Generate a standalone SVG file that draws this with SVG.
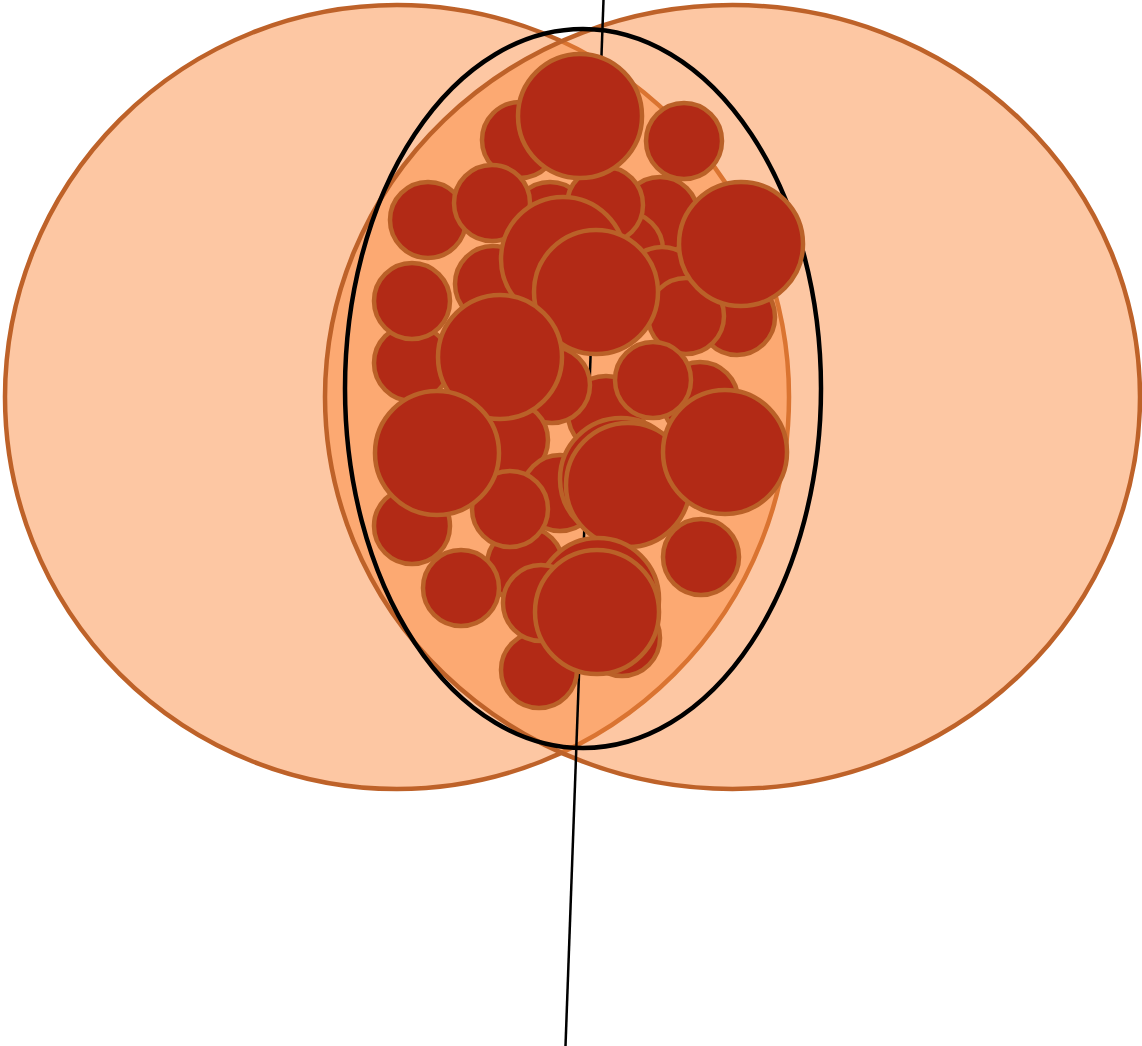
<svg xmlns="http://www.w3.org/2000/svg" width="1142" height="1046" viewBox="0 0 1142 1046">
<style>
.lobe{fill:#FB873B;fill-opacity:0.47;stroke:#BE6229;stroke-width:4.5}
.c{fill:#B22A16;stroke:#BA6128;stroke-width:4.5}
</style>
<rect width="1142" height="1046" fill="#FFFFFF"/>
<g id="lobes">
<circle class="lobe" cx="397" cy="397" r="392"/>
<ellipse class="lobe" cx="732.5" cy="397" rx="407.5" ry="392"/>
</g>
<ellipse id="outline" cx="583" cy="388.5" rx="238" ry="359.5" fill="none" stroke="#000000" stroke-width="4.5"/>
<line id="axis" x1="603.5" y1="0" x2="565.5" y2="1046" stroke="#000000" stroke-width="2.5"/>
<g id="cells">
<circle class="c" cx="550" cy="220" r="38"/>
<circle class="c" cx="660" cy="215" r="38"/>
<circle class="c" cx="625" cy="250" r="38"/>
<circle class="c" cx="662" cy="285" r="38"/>
<circle class="c" cx="520" cy="140" r="38"/>
<circle class="c" cx="605" cy="205" r="38"/>
<circle class="c" cx="580" cy="116" r="62"/>
<circle class="c" cx="684" cy="141" r="38"/>
<circle class="c" cx="428" cy="220" r="38"/>
<circle class="c" cx="492" cy="203" r="38"/>
<circle class="c" cx="493" cy="284" r="38"/>
<circle class="c" cx="737" cy="317" r="38"/>
<circle class="c" cx="686" cy="316" r="38"/>
<circle class="c" cx="741" cy="244" r="62"/>
<circle class="c" cx="563" cy="259" r="62"/>
<circle class="c" cx="700" cy="400" r="38"/>
<circle class="c" cx="606" cy="414" r="38"/>
<circle class="c" cx="653" cy="380" r="38"/>
<circle class="c" cx="596" cy="292" r="62"/>
<circle class="c" cx="412" cy="363" r="38"/>
<circle class="c" cx="412" cy="301" r="38"/>
<circle class="c" cx="552" cy="385" r="38"/>
<circle class="c" cx="510" cy="440" r="38"/>
<circle class="c" cx="500" cy="357" r="62"/>
<circle class="c" cx="560" cy="493" r="38"/>
<circle class="c" cx="525" cy="565" r="38"/>
<circle class="c" cx="510" cy="509" r="38"/>
<circle class="c" cx="412" cy="526" r="38"/>
<circle class="c" cx="437" cy="453" r="62"/>
<circle class="c" cx="461" cy="588" r="38"/>
<circle class="c" cx="621" cy="479" r="61"/>
<circle class="c" cx="628" cy="485" r="62"/>
<circle class="c" cx="725" cy="452" r="62"/>
<circle class="c" cx="701" cy="557" r="38"/>
<circle class="c" cx="622" cy="638" r="38"/>
<circle class="c" cx="539" cy="670" r="38"/>
<circle class="c" cx="598" cy="599" r="61"/>
<circle class="c" cx="541" cy="603" r="38"/>
<circle class="c" cx="597" cy="612" r="62"/>
</g>
</svg>
